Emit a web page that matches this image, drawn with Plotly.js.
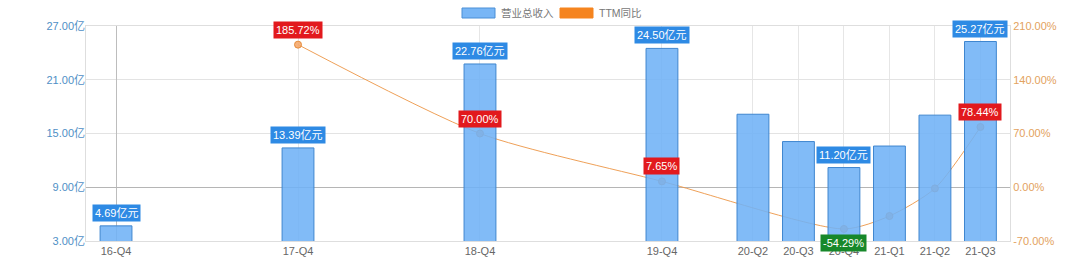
<!DOCTYPE html>
<html>
<head>
<meta charset="utf-8">
<script src="https://cdn.plot.ly/plotly-3.0.1.min.js"></script>
<style>
  html, body { margin: 0; padding: 0; background: #fff; }
  #chart { width: 1080px; height: 274px; }
</style>
</head>
<body>
<div id="chart"></div>
<script>
// Quarterly revenue (亿元) and TTM year-over-year growth (%)
const categories = ['16-Q4', '17-Q4', '18-Q4', '19-Q4', '20-Q2', '20-Q3', '20-Q4', '21-Q1', '21-Q2', '21-Q3'];
const revenue = [4.69, 13.39, 22.76, 24.50, 17.15, 14.10, 11.20, 13.60, 17.05, 25.27];
const ttmYoY = [null, 185.72, 70.00, 7.65, null, null, -54.29, -37.5, -1.5, 78.44];

// Periods whose values get a callout box
const revenueLabelCats = ['16-Q4', '17-Q4', '18-Q4', '19-Q4', '20-Q4', '21-Q3'];
const yoyLabelCats = ['17-Q4', '18-Q4', '19-Q4', '20-Q4', '21-Q3'];

const legendNames = ['营业总收入', 'TTM同比'];

// Place each period on a continuous quarter scale so gaps keep their width
function quarterIndex(label) {
  const [yy, q] = label.split('-Q').map(Number);
  return yy * 4 + q;
}
const base = quarterIndex(categories[0]);
const xs = categories.map(c => quarterIndex(c) - base);

const FONT = '"Liberation Sans", "Noto Sans CJK SC", Arial, sans-serif';

const lineTrace = {
  type: 'scatter', mode: 'lines+markers', name: legendNames[1],
  x: xs, y: ttmYoY, yaxis: 'y', connectgaps: true,
  line: { color: 'rgba(236,150,70,0.9)', width: 1, shape: 'spline', smoothing: 0.7 },
  marker: { size: 7, color: 'rgba(245,170,110,0.9)', line: { color: 'rgba(230,140,60,1)', width: 1 } },
  hoverinfo: 'skip'
};

const barTrace = {
  type: 'bar', name: legendNames[0],
  x: xs, y: revenue, yaxis: 'y2', width: 0.7,
  marker: { color: 'rgba(112,178,246,0.88)', line: { color: '#3f86cf', width: 1 } },
  hoverinfo: 'skip'
};

const annotations = [];
revenueLabelCats.forEach(c => {
  const i = categories.indexOf(c);
  annotations.push({
    x: xs[i], y: revenue[i], xref: 'x', yref: 'y2',
    text: revenue[i].toFixed(2) + '亿元', showarrow: false,
    yanchor: 'bottom', yshift: 4,
    font: { family: FONT, size: 11, color: '#ffffff' },
    bgcolor: '#2e8ae4', borderpad: 2
  });
});
yoyLabelCats.forEach(c => {
  const i = categories.indexOf(c);
  const v = ttmYoY[i];
  const neg = v < 0;
  annotations.push({
    x: xs[i], y: v, xref: 'x', yref: 'y',
    text: v.toFixed(2) + '%', showarrow: false,
    yanchor: neg ? 'top' : 'bottom', yshift: neg ? -5 : 6,
    font: { family: FONT, size: 11, color: '#ffffff' },
    bgcolor: neg ? '#17882a' : '#e2191d', borderpad: 2
  });
});

// Legend drawn as swatches + text above the plot
const legendItems = [
  { name: legendNames[0], color: '#78b6f6', border: '#4a8fd6', x0: 462 },
  { name: legendNames[1], color: '#f5841f', border: '#f5841f', x0: 560 }
];
const plotL = 86, plotR = 1010, plotT = 26, plotB = 241;
const px = v => (v - plotL) / (plotR - plotL);
const py = v => (plotB - v) / (plotB - plotT);
const shapes = [];
legendItems.forEach(it => {
  shapes.push({
    type: 'rect', xref: 'paper', yref: 'paper',
    x0: px(it.x0), x1: px(it.x0 + 33), y0: py(18), y1: py(8),
    fillcolor: it.color, line: { color: it.border, width: 1 }
  });
  annotations.push({
    xref: 'paper', yref: 'paper', x: px(it.x0 + 37), y: py(13),
    xanchor: 'left', yanchor: 'middle', showarrow: false,
    text: it.name, font: { family: FONT, size: 10.5, color: '#777' }
  });
});

const layout = {
  width: 1080, height: 274,
  margin: { l: plotL, r: 1080 - plotR, t: plotT, b: 274 - plotB },
  paper_bgcolor: '#fff', plot_bgcolor: '#fff',
  showlegend: false, bargap: 0,
  font: { family: FONT, size: 11, color: '#666' },
  xaxis: {
    range: [-0.66, 19.65],
    tickmode: 'array', tickvals: xs, ticktext: categories,
    showgrid: true, gridcolor: '#e6e6e6', gridwidth: 1,
    zeroline: true, zerolinecolor: '#bdbdbd', zerolinewidth: 1,
    showline: true, mirror: true, linecolor: '#dedede', linewidth: 1,
    ticks: '', tickfont: { family: FONT, size: 11, color: '#666' }
  },
  yaxis: {
    side: 'right', range: [-70, 210], tickmode: 'array',
    tickvals: [-70, 0, 70, 140, 210],
    ticktext: [-70, 0, 70, 140, 210].map(v => v.toFixed(2) + '%'),
    showgrid: true, gridcolor: '#e3e3e3',
    zeroline: true, zerolinecolor: '#b5b5b5', zerolinewidth: 1,
    showline: true, mirror: true, linecolor: '#dedede',
    ticks: '', tickfont: { family: FONT, size: 11, color: '#e3a25e' }
  },
  yaxis2: {
    overlaying: 'y', side: 'left', range: [3, 27], tickmode: 'array',
    tickvals: [3, 9, 15, 21, 27],
    ticktext: [3, 9, 15, 21, 27].map(v => v.toFixed(2) + '亿'),
    showgrid: false, zeroline: false,
    ticks: '', tickfont: { family: FONT, size: 11, color: '#4f8fc6' }
  },
  annotations: annotations,
  shapes: shapes
};

Plotly.newPlot('chart', [lineTrace, barTrace], layout, { displayModeBar: false, staticPlot: true });
</script>
</body>
</html>
